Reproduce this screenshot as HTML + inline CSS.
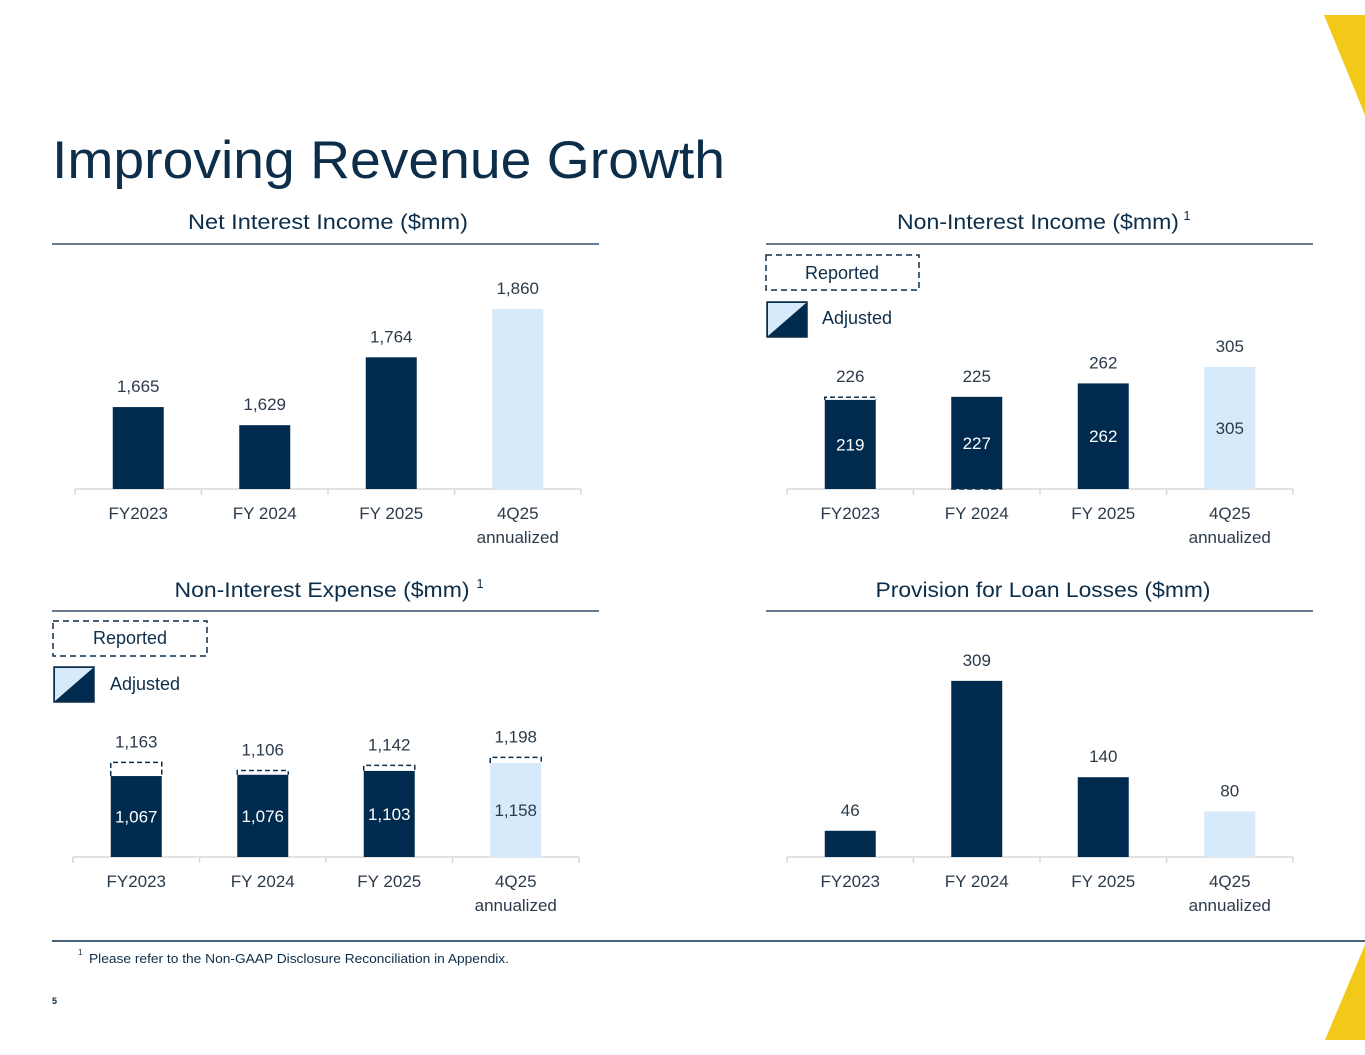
<!DOCTYPE html>
<html><head><meta charset="utf-8"><style>
body{margin:0;background:#fff;width:1365px;height:1055px;overflow:hidden;font-family:"Liberation Sans",sans-serif}
svg{display:block}
</style></head><body>
<svg id="s" width="1365" height="1055" viewBox="0 0 1365 1055" xmlns="http://www.w3.org/2000/svg">
<polygon points="1324,15 1365,15 1365,115" fill="#f2c918"/>
<polygon points="1365,945 1325,1040 1365,1040" fill="#f2c918"/>
<text x="52" y="178" font-size="53" textLength="673" lengthAdjust="spacingAndGlyphs" fill="#0d2e4a">Improving Revenue Growth</text>
<g font-size="21" fill="#0d2e4a" text-anchor="middle">
<text x="328" y="229" textLength="280" lengthAdjust="spacingAndGlyphs">Net Interest Income ($mm)</text>
<text x="1038" y="229" textLength="282" lengthAdjust="spacingAndGlyphs">Non-Interest Income ($mm)</text>
<text x="1187" y="220" font-size="13">1</text>
<text x="322" y="597" textLength="295" lengthAdjust="spacingAndGlyphs">Non-Interest Expense ($mm)</text>
<text x="480" y="588" font-size="13">1</text>
<text x="1043" y="597" textLength="335" lengthAdjust="spacingAndGlyphs">Provision for Loan Losses ($mm)</text>
</g>
<g stroke="#0d2e4a" stroke-width="1.2">
<line x1="52" y1="244" x2="599" y2="244"/>
<line x1="766" y1="244" x2="1313" y2="244"/>
<line x1="52" y1="611" x2="599" y2="611"/>
<line x1="766" y1="611" x2="1313" y2="611"/>
<line x1="52" y1="941" x2="1365" y2="941" stroke-width="1.5"/>
</g>
<text x="78" y="955" font-size="8" fill="#0d2e4a">1</text>
<text x="89" y="963" font-size="13" textLength="420" lengthAdjust="spacingAndGlyphs" fill="#0d2e4a">Please refer to the Non-GAAP Disclosure Reconciliation in Appendix.</text>
<text x="52" y="1004" font-size="9" font-weight="bold" fill="#0d2e4a">5</text>
<g id="legend1">
<rect x="766" y="255" width="153" height="35" fill="none" stroke="#0d2e4a" stroke-dasharray="6,4" stroke-width="1.5"/>
<text x="842" y="279" font-size="18" fill="#0d2e4a" text-anchor="middle">Reported</text>
<rect x="767" y="302" width="40" height="35" fill="#002b4e" stroke="#0d2e4a" stroke-width="1.5"/>
<polygon points="768,303 806,303 768,336" fill="#d6eafb"/>
<text x="822" y="324" font-size="18" fill="#0d2e4a">Adjusted</text>
</g>
<g id="legend2">
<rect x="53" y="621" width="154" height="35" fill="none" stroke="#0d2e4a" stroke-dasharray="6,4" stroke-width="1.5"/>
<text x="130" y="644" font-size="18" fill="#0d2e4a" text-anchor="middle">Reported</text>
<rect x="54" y="667" width="40" height="35" fill="#002b4e" stroke="#0d2e4a" stroke-width="1.5"/>
<polygon points="55,668 93,668 55,701" fill="#d6eafb"/>
<text x="110" y="690" font-size="18" fill="#0d2e4a">Adjusted</text>
</g>
<g id="charts"></g>
</svg>
<script>
const categories = ["FY2023", "FY 2024", "FY 2025", "4Q25"];
const niiValues = [1665, 1629, 1764, 1860];
const niiLabels = ["1,665", "1,629", "1,764", "1,860"];
const noniiAdjusted = [219, 227, 262, 305];
const noniiReported = [226, 225, 262, 305];
const nieAdjusted = [1067, 1076, 1103, 1158];
const nieAdjLabels = ["1,067", "1,076", "1,103", "1,158"];
const nieReported = [1163, 1106, 1142, 1198];
const nieRepLabels = ["1,163", "1,106", "1,142", "1,198"];
const provisionValues = [46, 309, 140, 80];

const NS = "http://www.w3.org/2000/svg";
const root = document.getElementById("charts");
function mk(tag, attrs, parent) {
  const e = document.createElementNS(NS, tag);
  for (const k in attrs) e.setAttribute(k, attrs[k]);
  (parent || root).appendChild(e);
  return e;
}
function chart(cfg) {
  const g = mk("g", {});
  
  
  const step = (cfg.x1 - cfg.x0) / categories.length;
  const xc = i => cfg.x0 + step * (i + 0.5);
  const yv = v => cfg.axisY - (v - cfg.base) * cfg.k;
  const ax = mk("line", {x1: cfg.x0, x2: cfg.x1, y1: cfg.axisY, y2: cfg.axisY, stroke: "#d9d9d9", "stroke-width": 1.5}, g);
  
  
  for (let i = 0; i <= categories.length; i++) {
    const t = mk("line", {x1: cfg.x0 + step * i, x2: cfg.x0 + step * i, y1: cfg.axisY, y2: cfg.axisY + 6, stroke: "#d9d9d9", "stroke-width": 1.5}, g);
    
    
  }
  categories.forEach((c, i) => {
    const light = i === categories.length - 1;
    const fill = light ? "#d6eafb" : "#002b4e";
    const top = yv(cfg.values[i]);
    const b = mk("rect", {x: xc(i) - 25.5, y: top, width: 51, height: cfg.axisY - top, fill: fill}, g);
    
    
    if (cfg.reported) {
      const ry = yv(cfg.reported[i]);
      if (ry < top - 0.5) {
        const d = mk("path", {d: `M${xc(i) - 25.5},${top} V${ry} H${xc(i) + 25.5} V${top}`, fill: "none", stroke: "#0d2e4a", "stroke-width": 1.5, "stroke-dasharray": "5,3"}, g);
        
        
      } else if (ry > top + 0.5) {
        const d = mk("line", {x1: xc(i) - 25.5, x2: xc(i) + 25.5, y1: cfg.axisY, y2: cfg.axisY, stroke: "#0d2e4a", "stroke-width": 1.5, "stroke-dasharray": "5,3"}, g);
        
        
      }
    }
    const labTop = cfg.reported ? Math.min(top, yv(cfg.reported[i])) : top;
    const lab = mk("text", {x: xc(i), y: labTop - 15, "font-size": 17, fill: "#2b3a4a", "text-anchor": "middle"}, g);
    lab.textContent = cfg.reported ? cfg.repLabels[i] : cfg.labels[i];
    
    
    if (cfg.reported) {
      const inl = mk("text", {x: xc(i), y: (top + cfg.axisY) / 2 + 6, "font-size": 17, fill: light ? "#2b3a4a" : "#ffffff", "text-anchor": "middle"}, g);
      inl.textContent = cfg.labels[i];
      
      
    }
    const cl = mk("text", {x: xc(i), y: cfg.axisY + 30, "font-size": 17, fill: "#2b3a4a", "text-anchor": "middle"}, g);
    cl.textContent = c;
    
    
    if (light) {
      const an = mk("text", {x: xc(i), y: cfg.axisY + 54, "font-size": 17, fill: "#2b3a4a", "text-anchor": "middle"}, g);
      an.textContent = "annualized";
      
      
    }
  });
}
chart({name: "nii-chart", x0: 75, x1: 581, axisY: 489, base: 1502, k: 0.5026, values: niiValues, labels: niiLabels});
chart({name: "nonii-chart", x0: 787, x1: 1293, axisY: 489, base: -13, k: 0.384, values: noniiAdjusted, labels: noniiAdjusted.map(String), reported: noniiReported, repLabels: noniiReported.map(String)});
chart({name: "nie-chart", x0: 73, x1: 579, axisY: 857, base: 501, k: 0.143, values: nieAdjusted, labels: nieAdjLabels, reported: nieReported, repLabels: nieRepLabels});
chart({name: "provision-chart", x0: 787, x1: 1293, axisY: 857, base: 0, k: 0.57, values: provisionValues, labels: provisionValues.map(String)});
</script>
</body></html>
